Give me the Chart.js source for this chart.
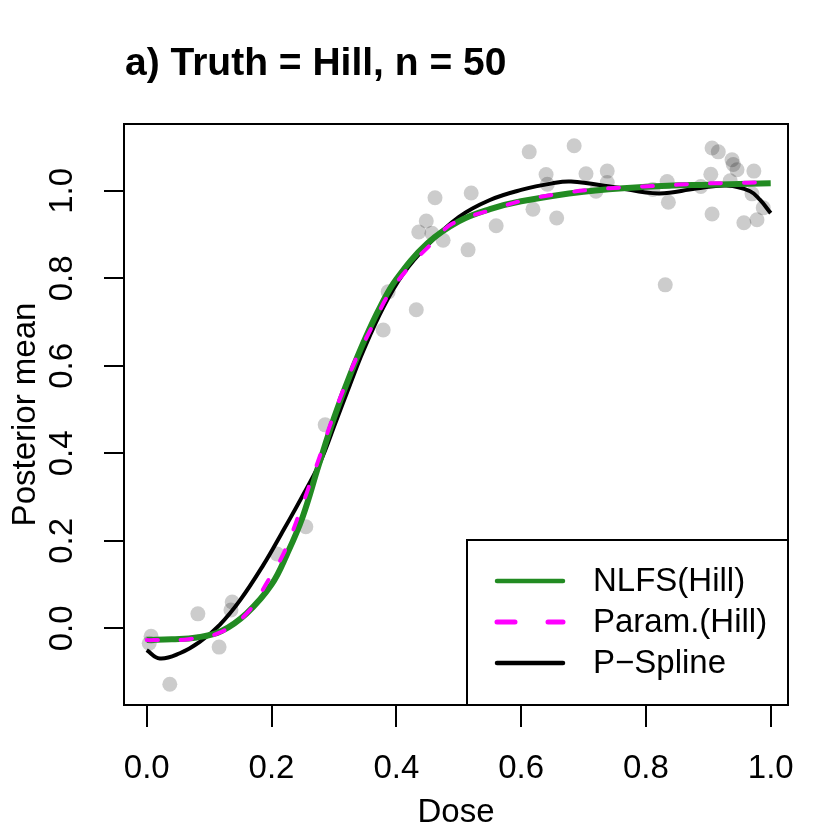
<!DOCTYPE html>
<html lang="en">
<head>
<meta charset="UTF-8">
<title>a) Truth = Hill, n = 50</title>
<script src="https://cdn.jsdelivr.net/npm/chart.js"></script>
<style>
  html, body { margin: 0; padding: 0; background: #fff; }
  #wrap { width: 830px; height: 830px; }
</style>
</head>
<body>
<div id="wrap"><canvas id="hillChart" width="830" height="830"></canvas></div>
<script>
// observed data (grey dots)
const doseObs = [0.004, 0.007, 0.037, 0.082, 0.116, 0.135, 0.137, 0.209, 0.255, 0.286,
  0.379, 0.387, 0.432, 0.436, 0.448, 0.457, 0.462, 0.475, 0.515, 0.520,
  0.560, 0.613, 0.619, 0.640, 0.642, 0.657, 0.685, 0.704, 0.720, 0.738,
  0.738, 0.811, 0.831, 0.834, 0.836, 0.888, 0.904, 0.906, 0.906, 0.916,
  0.935, 0.938, 0.940, 0.946, 0.957, 0.970, 0.973, 0.978, 0.988];
const respObs = [-0.034, -0.018, -0.128, 0.033, -0.043, 0.042, 0.060, 0.170, 0.232, 0.465,
  0.682, 0.769, 0.728, 0.906, 0.931, 0.903, 0.984, 0.887, 0.865, 0.995,
  0.920, 1.089, 0.958, 1.037, 1.015, 0.938, 1.103, 1.039, 0.999, 1.045,
  1.019, 1.003, 0.785, 1.021, 0.974, 1.010, 1.038, 0.947, 1.098, 1.089,
  1.023, 1.071, 1.060, 1.048, 0.927, 0.993, 1.045, 0.934, 0.961];

// NLFS(Hill) posterior mean
const nlfsX = [0, 0.04, 0.08, 0.12, 0.16, 0.2, 0.225, 0.25, 0.275, 0.3, 0.325, 0.35,
  0.375, 0.4, 0.45, 0.5, 0.55, 0.6, 0.7, 0.8, 0.9, 1.0];
const nlfsY = [-0.027, -0.025, -0.021, -0.006, 0.034, 0.100, 0.170, 0.255, 0.370, 0.480, 0.576, 0.662,
  0.737, 0.798, 0.880, 0.930, 0.958, 0.976, 0.998, 1.009, 1.014, 1.017];

// Param.(Hill) posterior mean
const paramX = [0, 0.011, 0.067, 0.12, 0.163, 0.192, 0.219, 0.240, 0.259, 0.278, 0.294, 0.315,
  0.337, 0.361, 0.387, 0.419, 0.457, 0.49, 0.556, 0.606, 0.66, 0.716, 0.769, 0.825,
  0.881, 0.937, 0.991, 1.0];
const paramY = [-0.027, -0.027, -0.025, -0.008, 0.038, 0.103, 0.170, 0.245, 0.320, 0.396, 0.465, 0.545,
  0.621, 0.689, 0.762, 0.823, 0.880, 0.925, 0.958, 0.979, 0.993, 1.003, 1.008, 1.012,
  1.016, 1.018, 1.019, 1.019];

// P-Spline posterior mean
const psplineX = [0, 0.021, 0.053, 0.085, 0.117, 0.15, 0.187, 0.215, 0.246, 0.278, 0.302, 0.326,
  0.347, 0.379, 0.411, 0.449, 0.5, 0.55, 0.6, 0.65, 0.68, 0.75, 0.82, 0.88, 0.93, 0.967, 0.983, 1.0];
const psplineY = [-0.050, -0.069, -0.057, -0.031, 0.008, 0.065, 0.145, 0.214, 0.293, 0.380, 0.468, 0.558,
  0.634, 0.733, 0.810, 0.874, 0.940, 0.979, 1.002, 1.017, 1.021, 1.008, 0.994, 1.005, 1.012, 0.999, 0.979, 0.949];

const xTicks = [0, 0.2, 0.4, 0.6, 0.8, 1.0];
const yTicks = [0, 0.2, 0.4, 0.6, 0.8, 1.0];
const legendLabels = ['NLFS(Hill)', 'Param.(Hill)', 'P\u2212Spline'];

const FONT = '"Liberation Sans", Arial, Helvetica, sans-serif';

function toPoints(xs, ys) {
  return xs.map((x, i) => ({ x: x, y: ys[i] }));
}

// box, rotated y labels, titles and legend, drawn R-style
const rDecor = {
  id: 'rDecor',
  afterDraw(chart) {
    const ctx = chart.ctx;
    const a = chart.chartArea;
    const ys = chart.scales.y;
    ctx.save();
    ctx.strokeStyle = '#000';
    ctx.lineWidth = 2;
    ctx.strokeRect(a.left, a.top, a.right - a.left, a.bottom - a.top);

    ctx.fillStyle = '#000';
    ctx.font = '33px ' + FONT;
    ctx.textAlign = 'center';
    ctx.textBaseline = 'alphabetic';
    yTicks.forEach(v => {
      ctx.save();
      ctx.translate(72, ys.getPixelForValue(v));
      ctx.rotate(-Math.PI / 2);
      ctx.fillText(v.toFixed(1), 0, 0);
      ctx.restore();
    });

    // axis titles
    ctx.fillText('Dose', (a.left + a.right) / 2, 822);
    ctx.save();
    ctx.translate(35, (a.top + a.bottom) / 2);
    ctx.rotate(-Math.PI / 2);
    ctx.fillText('Posterior mean', 0, 0);
    ctx.restore();

    // main title
    ctx.font = 'bold 39px ' + FONT;
    ctx.textAlign = 'left';
    ctx.fillText('a) Truth = Hill, n = 50', 125, 75);

    // legend
    const lx = 467, ly = 540;
    ctx.lineWidth = 2;
    ctx.strokeRect(lx, ly, a.right - lx, a.bottom - ly);
    const rows = [
      { color: '#228B22', dash: [], w: 4.5 },
      { color: '#FF00FF', dash: [18, 33], w: 5 },
      { color: '#000000', dash: [], w: 4.5 }
    ];
    ctx.font = '33px ' + FONT;
    ctx.textBaseline = 'middle';
    rows.forEach((r, i) => {
      const y = 581 + i * 41;
      ctx.beginPath();
      ctx.setLineDash(r.dash);
      ctx.lineCap = 'round';
      ctx.strokeStyle = r.color;
      ctx.lineWidth = r.w;
      ctx.moveTo(497, y);
      ctx.lineTo(563, y);
      ctx.stroke();
      ctx.setLineDash([]);
      ctx.fillText(legendLabels[i], 593, y + 1);
    });
    ctx.restore();
  }
};

const ctx = document.getElementById('hillChart').getContext('2d');
new Chart(ctx, {
  type: 'scatter',
  data: {
    datasets: [
      {
        label: 'obs',
        data: toPoints(doseObs, respObs),
        backgroundColor: 'rgba(0,0,0,0.2)',
        borderWidth: 0,
        pointRadius: 7.5,
        order: 4
      },
      {
        label: legendLabels[2],
        data: toPoints(psplineX, psplineY),
        showLine: true,
        borderColor: '#000000',
        borderWidth: 4,
        pointRadius: 0,
        tension: 0.4,
        order: 3
      },
      {
        label: legendLabels[0],
        data: toPoints(nlfsX, nlfsY),
        showLine: true,
        borderColor: '#228B22',
        borderWidth: 6,
        pointRadius: 0,
        tension: 0.4,
        order: 2
      },
      {
        label: legendLabels[1],
        data: toPoints(paramX, paramY),
        showLine: true,
        borderColor: '#FF00FF',
        borderWidth: 4,
        borderDash: [11, 23],
        borderCapStyle: 'round',
        pointRadius: 0,
        tension: 0.4,
        order: 1
      }
    ]
  },
  options: {
    responsive: false,
    animation: false,
    devicePixelRatio: 1,
    layout: { padding: { left: 0, top: 124, right: 42, bottom: 0 } },
    plugins: {
      legend: { display: false },
      tooltip: { enabled: false },
      title: { display: false }
    },
    scales: {
      x: {
        type: 'linear',
        min: -0.0364,
        max: 1.0277,
        afterBuildTicks: s => { s.ticks = xTicks.map(v => ({ value: v })); },
        afterFit: s => { s.height = 125; },
        grid: { drawOnChartArea: false, drawTicks: true, tickLength: 22, color: '#000', lineWidth: 2 },
        border: { display: false },
        ticks: {
          color: '#000',
          padding: 22,
          maxRotation: 0,
          font: { family: FONT, size: 33 },
          callback: v => Number(v).toFixed(1)
        }
      },
      y: {
        type: 'linear',
        min: -0.1753,
        max: 1.1527,
        afterBuildTicks: s => { s.ticks = yTicks.map(v => ({ value: v })); },
        afterFit: s => { s.width = 124; },
        grid: { drawOnChartArea: false, drawTicks: true, tickLength: 20, color: '#000', lineWidth: 2 },
        border: { display: false },
        ticks: { display: false }
      }
    }
  },
  plugins: [rDecor]
});
</script>
</body>
</html>
